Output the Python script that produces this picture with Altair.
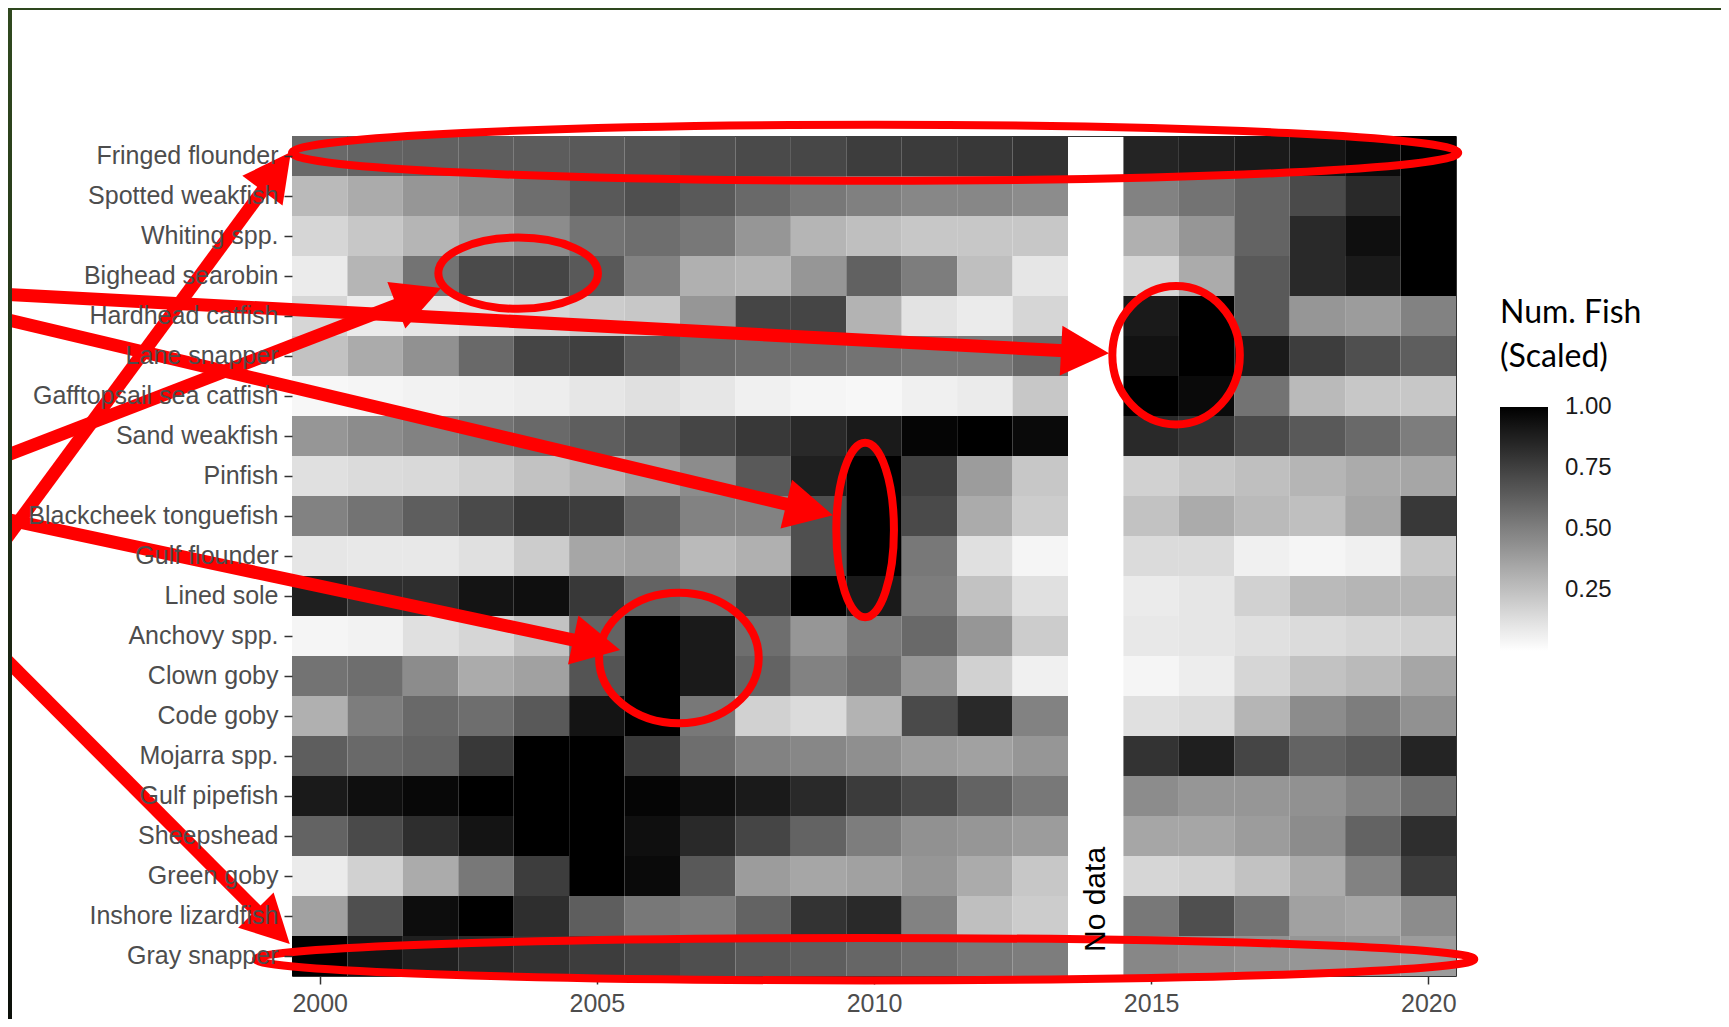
import math
import altair as alt
import pandas as pd

# ---------------- data ----------------
species = ["Fringed flounder", "Spotted weakfish", "Whiting spp.", "Bighead searobin",
           "Hardhead catfish", "Lane snapper", "Gafftopsail sea catfish", "Sand weakfish",
           "Pinfish", "Blackcheek tonguefish", "Gulf flounder", "Lined sole", "Anchovy spp.",
           "Clown goby", "Code goby", "Mojarra spp.", "Gulf pipefish", "Sheepshead",
           "Green goby", "Inshore lizardfish", "Gray snapper"]

years = [2000, 2001, 2002, 2003, 2004, 2005, 2006, 2007, 2008, 2009, 2010, 2011, 2012, 2013,
         2015, 2016, 2017, 2018, 2019, 2020]

fringed_flounder = [0.59, 0.61, 0.62, 0.63, 0.64, 0.65, 0.67, 0.69, 0.71, 0.72, 0.76, 0.77, 0.78, 0.80, 0.86, 0.88, 0.90, 0.92, 0.96, 1.00]
spotted_weakfish = [0.27, 0.33, 0.41, 0.47, 0.57, 0.65, 0.69, 0.65, 0.59, 0.53, 0.50, 0.47, 0.47, 0.45, 0.49, 0.55, 0.61, 0.71, 0.84, 1.00]
whiting_spp = [0.16, 0.22, 0.29, 0.37, 0.45, 0.55, 0.57, 0.53, 0.41, 0.29, 0.25, 0.22, 0.22, 0.22, 0.31, 0.41, 0.61, 0.84, 0.94, 1.00]
bighead_searobin = [0.08, 0.29, 0.55, 0.71, 0.73, 0.65, 0.49, 0.31, 0.29, 0.41, 0.62, 0.51, 0.25, 0.10, 0.16, 0.33, 0.65, 0.84, 0.90, 1.00]
hardhead_catfish = [0.16, 0.08, 0.10, 0.12, 0.16, 0.20, 0.22, 0.41, 0.73, 0.73, 0.30, 0.11, 0.08, 0.16, 0.90, 1.00, 0.65, 0.41, 0.39, 0.49]
lane_snapper = [0.24, 0.33, 0.43, 0.59, 0.73, 0.75, 0.65, 0.59, 0.57, 0.57, 0.55, 0.53, 0.53, 0.59, 0.93, 1.00, 0.90, 0.76, 0.69, 0.63]
gafftopsail_catfish = [0.03, 0.04, 0.05, 0.06, 0.07, 0.10, 0.12, 0.10, 0.06, 0.04, 0.03, 0.06, 0.08, 0.22, 1.00, 0.96, 0.55, 0.27, 0.22, 0.22]
sand_weakfish = [0.41, 0.45, 0.49, 0.55, 0.59, 0.63, 0.67, 0.73, 0.78, 0.84, 0.90, 0.98, 1.00, 0.96, 0.84, 0.80, 0.71, 0.65, 0.59, 0.51]
pinfish = [0.12, 0.14, 0.15, 0.18, 0.24, 0.29, 0.37, 0.45, 0.65, 0.88, 1.00, 0.75, 0.39, 0.22, 0.18, 0.22, 0.25, 0.29, 0.33, 0.35]
blackcheek_tonguefish = [0.49, 0.55, 0.63, 0.71, 0.78, 0.76, 0.61, 0.49, 0.49, 0.69, 1.00, 0.71, 0.33, 0.20, 0.24, 0.33, 0.27, 0.25, 0.35, 0.78]
gulf_flounder = [0.10, 0.09, 0.09, 0.12, 0.20, 0.35, 0.37, 0.27, 0.31, 0.69, 1.00, 0.53, 0.12, 0.04, 0.14, 0.14, 0.06, 0.04, 0.06, 0.22]
lined_sole = [0.88, 0.82, 0.82, 0.92, 0.94, 0.78, 0.61, 0.57, 0.76, 1.00, 0.90, 0.51, 0.24, 0.12, 0.08, 0.10, 0.18, 0.27, 0.29, 0.29]
anchovy_spp = [0.04, 0.05, 0.12, 0.16, 0.24, 0.61, 1.00, 0.90, 0.57, 0.41, 0.52, 0.59, 0.41, 0.20, 0.09, 0.10, 0.12, 0.14, 0.16, 0.18]
clown_goby = [0.55, 0.57, 0.45, 0.33, 0.37, 0.67, 1.00, 0.90, 0.61, 0.49, 0.56, 0.41, 0.18, 0.06, 0.04, 0.07, 0.16, 0.24, 0.27, 0.35]
code_goby = [0.31, 0.51, 0.59, 0.57, 0.65, 0.92, 1.00, 0.53, 0.18, 0.14, 0.30, 0.71, 0.84, 0.49, 0.12, 0.14, 0.29, 0.45, 0.51, 0.43]
mojarra_spp = [0.63, 0.59, 0.61, 0.78, 1.00, 1.00, 0.78, 0.57, 0.49, 0.47, 0.44, 0.39, 0.37, 0.41, 0.80, 0.88, 0.73, 0.61, 0.65, 0.86]
gulf_pipefish = [0.90, 0.94, 0.97, 1.00, 1.00, 1.00, 0.98, 0.94, 0.90, 0.84, 0.77, 0.71, 0.61, 0.53, 0.45, 0.41, 0.41, 0.43, 0.49, 0.57]
sheepshead = [0.61, 0.71, 0.82, 0.92, 1.00, 1.00, 0.94, 0.84, 0.73, 0.61, 0.51, 0.43, 0.41, 0.39, 0.35, 0.35, 0.39, 0.45, 0.61, 0.82]
green_goby = [0.08, 0.18, 0.33, 0.53, 0.76, 1.00, 0.96, 0.65, 0.39, 0.35, 0.37, 0.41, 0.33, 0.22, 0.16, 0.18, 0.24, 0.33, 0.49, 0.76]
inshore_lizardfish = [0.37, 0.69, 0.95, 1.00, 0.82, 0.63, 0.53, 0.51, 0.61, 0.80, 0.84, 0.49, 0.25, 0.20, 0.53, 0.69, 0.55, 0.37, 0.35, 0.45]
gray_snapper = [1.00, 0.92, 0.88, 0.84, 0.80, 0.76, 0.73, 0.69, 0.65, 0.63, 0.60, 0.57, 0.53, 0.51, 0.47, 0.45, 0.43, 0.41, 0.41, 0.39]

species_rows = [fringed_flounder, spotted_weakfish, whiting_spp, bighead_searobin,
                hardhead_catfish, lane_snapper, gafftopsail_catfish, sand_weakfish,
                pinfish, blackcheek_tonguefish, gulf_flounder, lined_sole, anchovy_spp,
                clown_goby, code_goby, mojarra_spp, gulf_pipefish, sheepshead,
                green_goby, inshore_lizardfish, gray_snapper]

# top tick sits a hair below 1 so its label stays centred on the bar end; shows as "1.00"
legend_ticks = [0.25, 0.50, 0.75, 0.998]
axis_years = [2000, 2005, 2010, 2015, 2020]

# red annotations (year units / row units, row 0 = top row)
ellipse_year = [2010.02, 2003.58, 2015.45, 2009.84, 2006.48, 2009.84]
ellipse_row = [-0.08, 2.93, 4.98, 9.35, 12.55, 20.08]
ellipse_half_w_years = [10.52, 1.44, 1.15, 0.52, 1.44, 10.99]
ellipse_half_h_rows = [0.70, 0.89, 1.73, 2.18, 1.63, 0.53]

arrow_tail_year = [1994.23, 1994.23, 1994.23, 1994.23, 1994.23, 1994.23]
arrow_tail_row = [9.78, 7.55, 3.45, 4.05, 9.05, 12.43]
arrow_tip_year = [1999.48, 2002.19, 2014.24, 2009.26, 2005.42, 1999.46]
arrow_tip_row = [-0.10, 3.30, 4.93, 8.98, 12.35, 19.70]

nodata_year = [2014]
nodata_row = [19.9]
nodata_text = ["No data"]

# ---------------- layout ----------------
W, H = 1164, 840
X_DOMAIN = [1999.5, 2020.5]
ROW_DOMAIN = [-0.5, 20.5]
PX_YEAR = W / (X_DOMAIN[1] - X_DOMAIN[0])
PX_ROW = H / (ROW_DOMAIN[1] - ROW_DOMAIN[0])
RED = "#ff0000"

records = []
for sp, vals in zip(species, species_rows):
    for yr, v in zip(years, vals):
        records.append({"species": sp, "year": yr, "value": v})
heat_df = pd.DataFrame(records)

xscale = alt.Scale(domain=X_DOMAIN, nice=False, zero=False)
rowscale = alt.Scale(domain=ROW_DOMAIN, nice=False, zero=False, reverse=True)

heat = alt.Chart(heat_df).transform_calculate(
    x0="datum.year - 0.5", x1="datum.year + 0.5"
).mark_rect().encode(
    x=alt.X("x0:Q", scale=xscale,
            axis=alt.Axis(values=axis_years, format="d", title=None, grid=False, domain=False,
                          tickSize=8, tickColor="#333333", tickWidth=1.5, labelFlush=False,
                          labelFontSize=25, labelFont="Liberation Sans", labelColor="#4d4d4d",
                          labelPadding=7)),
    x2="x1:Q",
    y=alt.Y("species:N", sort=species, scale=alt.Scale(paddingInner=0, paddingOuter=0),
            axis=alt.Axis(title=None, domain=False, tickSize=8, tickColor="#333333",
                          tickWidth=1.5, labelFontSize=25, labelFont="Liberation Sans",
                          labelColor="#4d4d4d", labelPadding=6, labelLimit=400)),
    color=alt.Color("value:Q",
                    scale=alt.Scale(domain=[0, 1], range=["#ffffff", "#000000"], interpolate="rgb"),
                    legend=alt.Legend(title=["Num. Fish", "(Scaled)"], orient="none",
                                      legendX=1208, legendY=162, direction="vertical",
                                      gradientLength=244, gradientThickness=48,
                                      gradientStrokeWidth=0, values=legend_ticks, format=".2f",
                                      labelFontSize=24, labelFont="Liberation Sans",
                                      labelColor="#1a1a1a", labelOffset=17, labelOverlap=False,
                                      titleFont="Lato", titleFontSize=32, titleFontWeight="normal",
                                      titleColor="#000000", titleLineHeight=44, titlePadding=33,
                                      padding=0)),
)

# ellipses as custom symbol paths
K = 0.5523
ell_paths, ell_sizes = [], []
for aw, bh in zip(ellipse_half_w_years, ellipse_half_h_rows):
    a_px, b_px = aw * PX_YEAR, bh * PX_ROW
    m = max(a_px, b_px)
    rx, ry = a_px / m, b_px / m
    p = (f"M{-rx:.4f},0C{-rx:.4f},{-K*ry:.4f},{-K*rx:.4f},{-ry:.4f},0,{-ry:.4f}"
         f"C{K*rx:.4f},{-ry:.4f},{rx:.4f},{-K*ry:.4f},{rx:.4f},0"
         f"C{rx:.4f},{K*ry:.4f},{K*rx:.4f},{ry:.4f},0,{ry:.4f}"
         f"C{-K*rx:.4f},{ry:.4f},{-rx:.4f},{K*ry:.4f},{-rx:.4f},0Z")
    ell_paths.append(p)
    ell_sizes.append((2 * m) ** 2)
ell_df = pd.DataFrame({"ex": ellipse_year, "er": ellipse_row, "path": ell_paths, "size": ell_sizes})

ells = alt.Chart(ell_df).mark_point(filled=False, stroke=RED, strokeWidth=8, opacity=1).encode(
    x=alt.X("ex:Q", scale=xscale, axis=None),
    y=alt.Y("er:Q", scale=rowscale, axis=None),
    shape=alt.Shape("path:N", scale=None, legend=None),
    size=alt.Size("size:Q", scale=None, legend=None),
)

# arrows
HEAD_LEN = 48
head_path = "M0,0L0.52,1L-0.52,1Z"
head_size = (2 * HEAD_LEN) ** 2
shaft_year, shaft_row, angles = [], [], []
for ty, tr, py, pr in zip(arrow_tail_year, arrow_tail_row, arrow_tip_year, arrow_tip_row):
    dx = (py - ty) * PX_YEAR
    dy = (pr - tr) * PX_ROW
    L = math.hypot(dx, dy)
    ux, uy = dx / L, dy / L
    shaft_year.append(py - (HEAD_LEN - 8) * ux / PX_YEAR)
    shaft_row.append(pr - (HEAD_LEN - 8) * uy / PX_ROW)
    angles.append(math.degrees(math.atan2(dx, -dy)) % 360)
arrow_df = pd.DataFrame({"ty": arrow_tail_year, "tr": arrow_tail_row,
                         "sy": shaft_year, "sr": shaft_row,
                         "py": arrow_tip_year, "pr": arrow_tip_row, "angle": angles})

shafts = alt.Chart(arrow_df).mark_rule(stroke=RED, strokeWidth=13).encode(
    x=alt.X("ty:Q", scale=xscale, axis=None), x2="sy:Q",
    y=alt.Y("tr:Q", scale=rowscale, axis=None), y2="sr:Q",
)
heads = alt.Chart(arrow_df).mark_point(filled=True, fill=RED, opacity=1, strokeWidth=0,
                                       shape=head_path, size=head_size).encode(
    x=alt.X("py:Q", scale=xscale, axis=None),
    y=alt.Y("pr:Q", scale=rowscale, axis=None),
    angle=alt.Angle("angle:Q", scale=None),
)

nodata = alt.Chart(pd.DataFrame({"nx": nodata_year, "nr": nodata_row, "t": nodata_text})).mark_text(
    angle=270, align="left", baseline="middle", fontSize=30, font="Liberation Sans", color="#000000"
).encode(
    x=alt.X("nx:Q", scale=xscale, axis=None),
    y=alt.Y("nr:Q", scale=rowscale, axis=None),
    text="t:N",
)

# dark green frame decoration
frame_grad = alt.LinearGradient(gradient="linear",
                                stops=[alt.GradientStop(color="#30491f", offset=0),
                                       alt.GradientStop(color="#1f2d15", offset=0.5),
                                       alt.GradientStop(color="#0c100a", offset=1)],
                                x1=0, x2=0, y1=0, y2=1)
one = pd.DataFrame({"k": [0]})
left_strip = alt.Chart(one).mark_rect(fill=frame_grad).encode(
    x=alt.value(-284), x2=alt.value(-280), y=alt.value(-128), y2=alt.value(883))
top_strip = alt.Chart(one).mark_rect(fill="#2e471e").encode(
    x=alt.value(-284), x2=alt.value(1429), y=alt.value(-128), y2=alt.value(-126))

chart = alt.layer(heat, shafts, heads, ells, nodata, left_strip, top_strip).resolve_scale(
    x="independent", y="independent"
).properties(
    width=W, height=H,
    autosize=alt.AutoSizeParams(type="none"),
    padding={"left": 284, "top": 128, "right": 265, "bottom": 43},
).configure_view(stroke="#333333", strokeWidth=1)

chart.save("out.html", embed_options={"renderer": "svg", "actions": False})
